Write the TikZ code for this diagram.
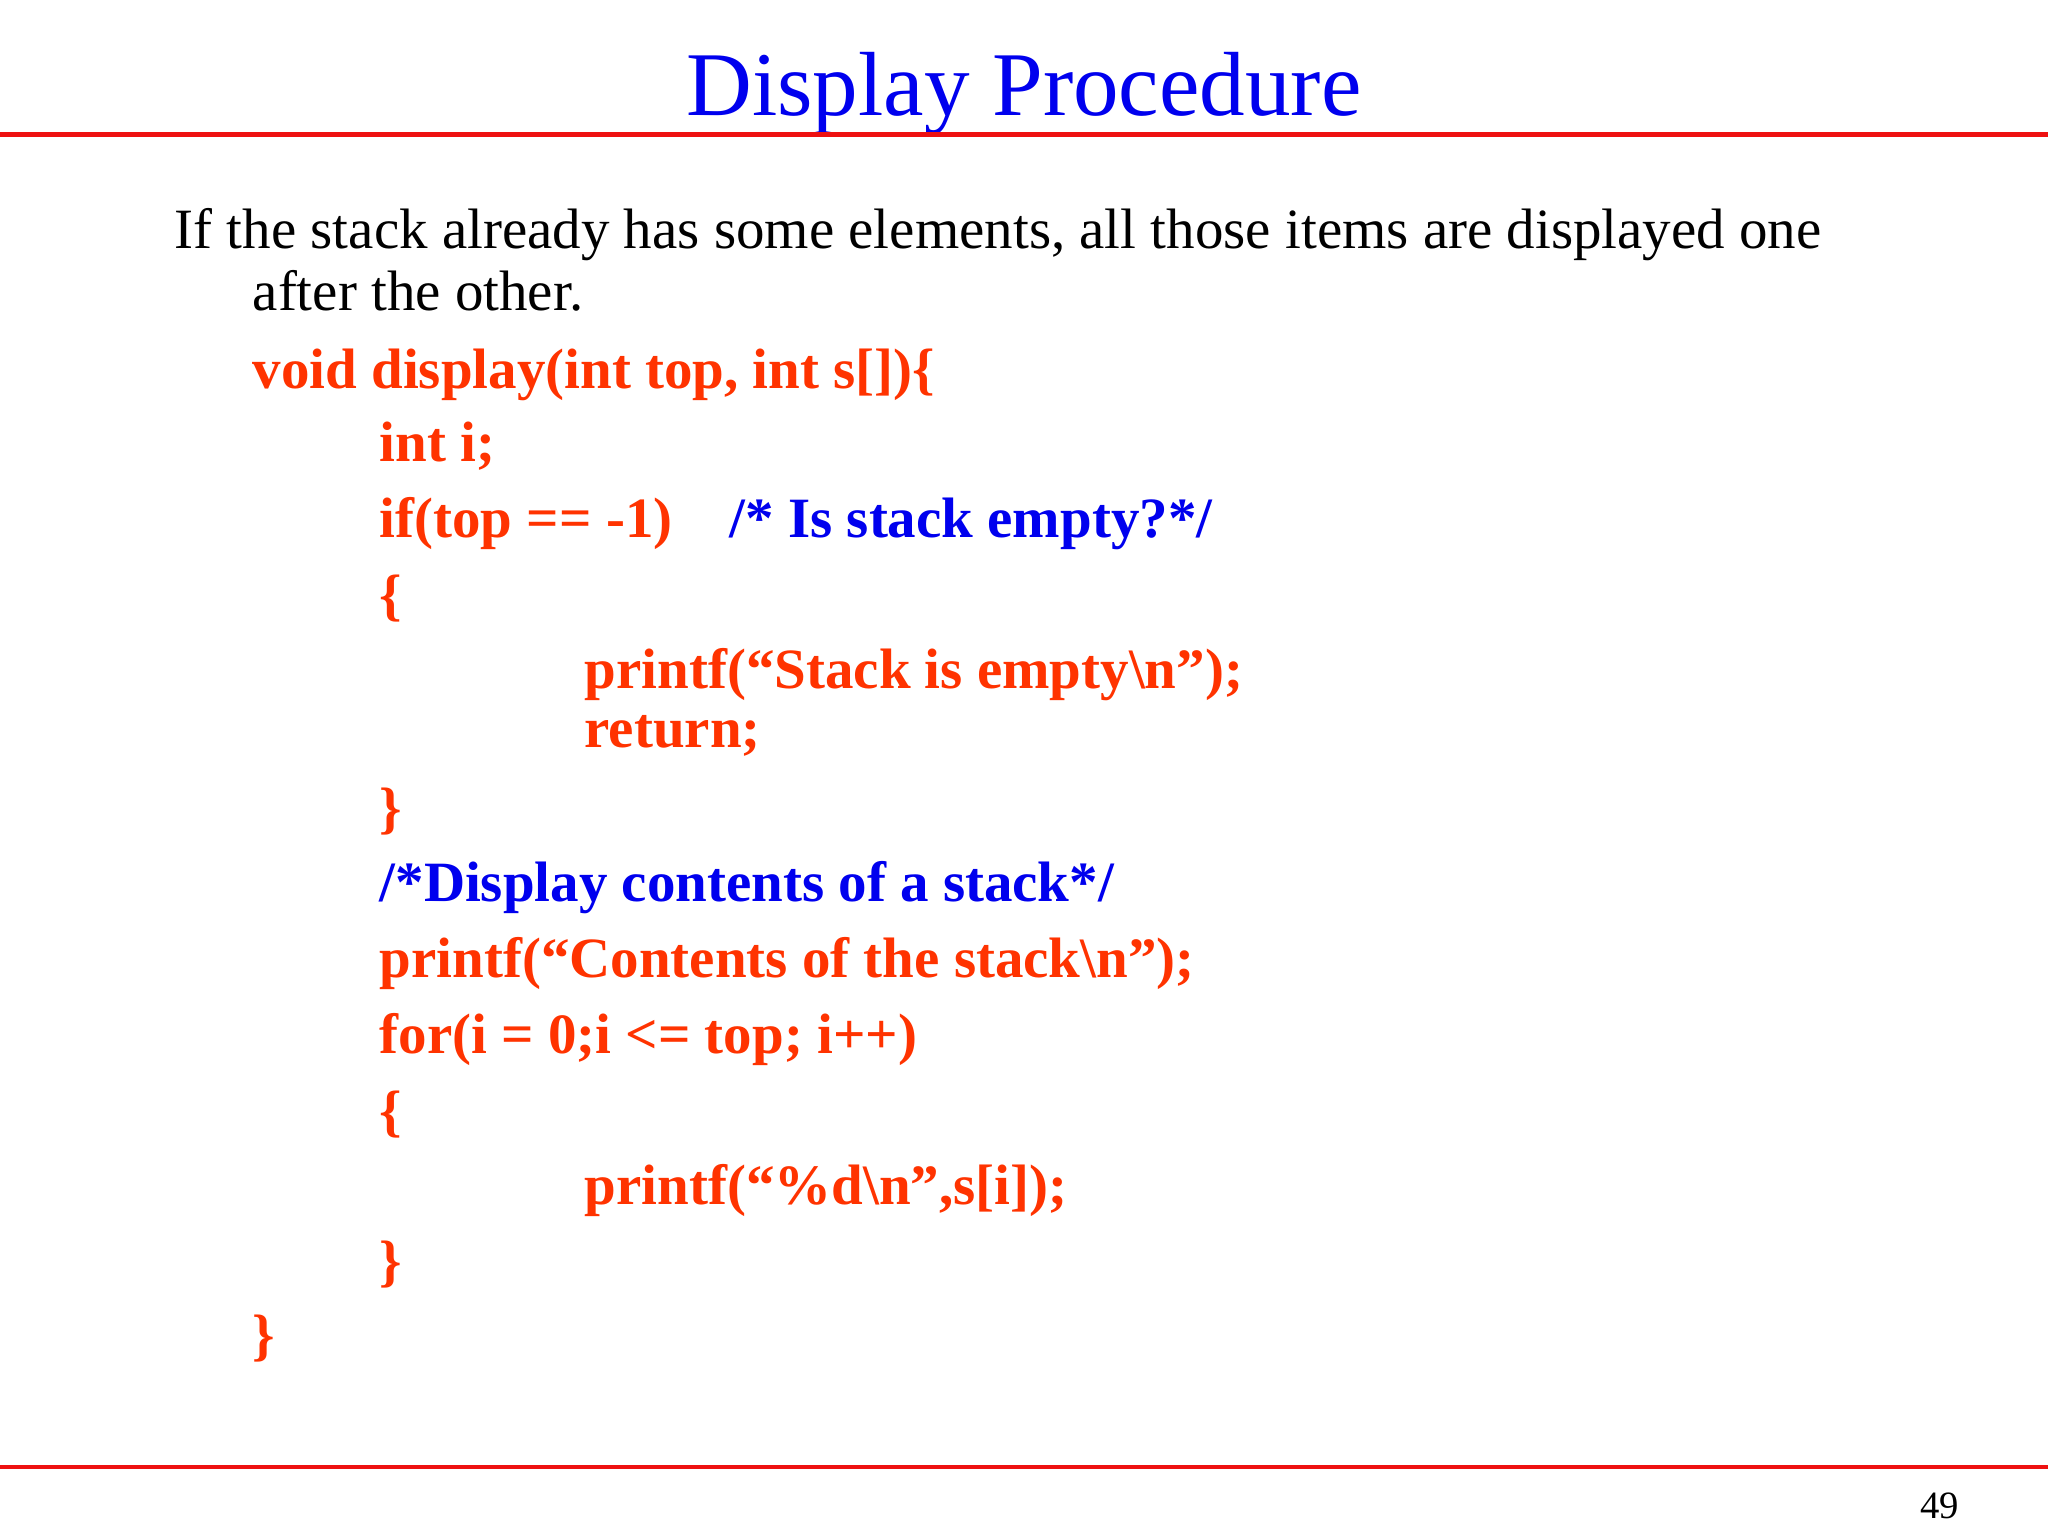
\documentclass[tikz,border=0pt]{standalone}
\usepackage{fontspec}
\setmainfont{Liberation Serif}
\definecolor{rline}{HTML}{EE1111}
\definecolor{code}{HTML}{FF3300}
\definecolor{cblue}{HTML}{0000EE}
\begin{document}
\begin{tikzpicture}[x=0.01cm,y=-0.01cm,
  txt/.style={anchor=base west,inner sep=0pt,font=\fontsize{16.2}{19}\selectfont},
  cd/.style={txt,text=code,font=\fontsize{16.2}{19}\selectfont\bfseries},
  cmt/.style={txt,text=cblue,font=\fontsize{16.2}{19}\selectfont\bfseries}]
\useasboundingbox[fill=white] (0,0) rectangle (2048,1536);
\node[anchor=base,inner sep=0pt,text=cblue,font=\fontsize{25.9}{30}\selectfont] (title) at (1024,115) {Display Procedure};
\draw[rline,line width=1.4pt] (0,134.5) -- (2048,134.5);
\draw[rline,line width=1.4pt] (0,1467) -- (2048,1467);
\node[anchor=base east,inner sep=0pt,font=\fontsize{11}{13}\selectfont] (pg) at (1960,1518) {49};
\node[txt] (p1) at (174,248) {If the stack already has some elements, all those items are displayed one};
\node[txt] (p2) at (252,310) {after the other.};
\node[cd] (l1) at (252,388) {void display(int top, int s[])\{};
\node[cd] (l2) at (379,461) {int i;};
\node[cd] (l3) at (379,537) {if(top == -1)};
\node[cmt] (l3c) at (729,537) {/* Is stack empty?*/};
\node[cd] (l4) at (379,614) {\{};
\node[cd] (l5) at (584,688) {printf(“Stack is empty\textbackslash n”);};
\node[cd] (l6) at (584,747) {return;};
\node[cd] (l7) at (379,827) {\}};
\node[cmt] (l8) at (379,901) {/*Display contents of a stack*/};
\node[cd] (l9) at (379,977) {printf(“Contents of the stack\textbackslash n”);};
\node[cd] (l10) at (379,1053) {for(i = 0;i <= top; i++)};
\node[cd] (l11) at (379,1130) {\{};
\node[cd] (l12) at (584,1204) {printf(“\%d\textbackslash n”,s[i]);};
\node[cd] (l13) at (379,1280) {\}};
\node[cd] (l14) at (252,1354) {\}};
\end{tikzpicture}
\end{document}
